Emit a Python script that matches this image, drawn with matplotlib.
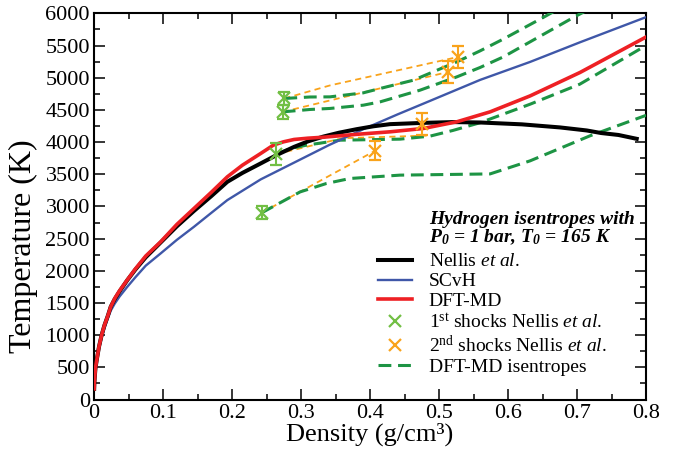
import matplotlib
matplotlib.use("Agg")
import matplotlib.pyplot as plt
from matplotlib.lines import Line2D
from matplotlib.ticker import MultipleLocator

plt.rcParams['font.family'] = ['Liberation Serif', 'DejaVu Serif']
plt.rcParams['mathtext.fontset'] = 'custom'
plt.rcParams['mathtext.rm'] = 'Liberation Serif'
plt.rcParams['mathtext.it'] = 'Liberation Serif:italic'
plt.rcParams['mathtext.bf'] = 'Liberation Serif:bold'

# ---------------- data ----------------
nellis_rho = [0.0002, 0.0005, 0.001, 0.002, 0.0039, 0.0072, 0.011, 0.015, 0.02, 0.0242,
              0.03, 0.037, 0.0483, 0.06, 0.075, 0.0966, 0.12, 0.1449, 0.17, 0.1932,
              0.215, 0.2416, 0.265, 0.2899, 0.31, 0.3324, 0.355, 0.3807, 0.405, 0.429,
              0.4773, 0.52, 0.5594, 0.62, 0.6754, 0.714, 0.735, 0.76, 0.7865]
nellis_T = [165, 260, 340, 480, 613, 820, 1000, 1150, 1300, 1441,
            1560, 1680, 1855, 2020, 2210, 2440, 2690, 2930, 3160, 3382,
            3520, 3668, 3800, 3925, 4010, 4085, 4145, 4200, 4245, 4278,
            4298, 4310, 4304, 4275, 4227, 4180, 4140, 4110, 4050]

scvh_rho = [0.0002, 0.0005, 0.001, 0.002, 0.0039, 0.0072, 0.011, 0.015, 0.02, 0.0242,
            0.03, 0.037, 0.0483, 0.06, 0.075, 0.0966, 0.12, 0.1449, 0.17, 0.1932,
            0.2416, 0.2899, 0.34, 0.3903, 0.44, 0.487, 0.5594, 0.632, 0.7043, 0.7986]
scvh_T = [165, 250, 330, 460, 600, 790, 960, 1100, 1260, 1380,
          1490, 1600, 1752, 1900, 2080, 2270, 2480, 2684, 2900, 3098,
          3420, 3680, 3950, 4200, 4430, 4640, 4965, 5245, 5550, 5935]

dft_rho = [0.0002, 0.0005, 0.001, 0.002, 0.0039, 0.0072, 0.011, 0.015, 0.02, 0.0242,
           0.03, 0.037, 0.0483, 0.06, 0.075, 0.0966, 0.12, 0.1449, 0.17, 0.1932,
           0.215, 0.2416, 0.2599, 0.2744, 0.2899, 0.31, 0.3324, 0.3807, 0.429, 0.4773,
           0.5256, 0.574, 0.632, 0.7043, 0.7986]
dft_T = [165, 260, 340, 480, 613, 820, 1000, 1150, 1300, 1441,
         1570, 1690, 1860, 2030, 2230, 2450, 2720, 2969, 3220, 3460,
         3640, 3823, 3952, 4003, 4040, 4060, 4075, 4120, 4159, 4211,
         4314, 4469, 4717, 5081, 5624]

shock1_rho = [0.243, 0.2638, 0.2734, 0.2758]
shock1_T = [2901, 3812, 4469, 4677]
shock1_err = [100, 170, 110, 100]

shock2_rho = [0.4072, 0.4758, 0.5135, 0.528]
shock2_T = [3864, 4278, 5090, 5323]
shock2_err = [145, 170, 170, 175]

# DFT-MD isentropes (green dashed)
isen1_rho = [0.243, 0.2986, 0.337, 0.371, 0.4435, 0.574, 0.632, 0.7188, 0.8]
isen1_T = [2901, 3225, 3357, 3434, 3486, 3505, 3708, 4097, 4415]
isen2_rho = [0.2638, 0.285, 0.308, 0.3565, 0.4435, 0.487, 0.52, 0.5594, 0.632, 0.704, 0.8]
isen2_T = [3812, 3900, 3952, 4029, 4045, 4092, 4180, 4300, 4588, 4899, 5500]
isen3_rho = [0.2734, 0.313, 0.342, 0.3903, 0.4145, 0.4725, 0.5256, 0.5594, 0.5932, 0.6947, 0.72]
isen3_T = [4469, 4506, 4522, 4573, 4624, 4806, 5012, 5158, 5323, 5935, 6080]
isen4_rho = [0.2758, 0.313, 0.342, 0.39, 0.4145, 0.4628, 0.5256, 0.5594, 0.5932, 0.65, 0.67]
isen4_T = [4677, 4700, 4702, 4764, 4832, 4961, 5245, 5416, 5600, 5930, 6050]

# connections 1st -> 2nd shock (orange dashed)
hug1_rho = [0.243, 0.4072]
hug1_T = [2901, 3864]
hug2_rho = [0.2638, 0.36, 0.482]
hug2_T = [3812, 4060, 4100]
hug3_rho = [0.2734, 0.5135]
hug3_T = [4469, 5090]
hug4_rho = [0.2758, 0.342, 0.528]
hug4_T = [4677, 4880, 5323]

xticks = [0, 0.1, 0.2, 0.3, 0.4, 0.5, 0.6, 0.7, 0.8]
xticklabels = ['0', '0.1', '0.2', '0.3', '0.4', '0.5', '0.6', '0.7', '0.8']
yticks = list(range(0, 6001, 500))

# ---------------- style ----------------
C_BLACK = '#000000'
C_BLUE = '#3f57a8'
C_RED = '#ee2024'
C_GREEN = '#1d9444'
C_LGREEN = '#72bf44'
C_ORANGE = '#f9a31b'

fig = plt.figure(figsize=(6.75, 4.53), dpi=100)
ax = fig.add_axes([0.1393, 0.1181, 0.8178, 0.8525])

green_dash = dict(color=C_GREEN, lw=2.2, dashes=(4.2, 2.2))
orange_dash = dict(color=C_ORANGE, lw=1.3, dashes=(3.4, 2.4))

for r, t in [(hug1_rho, hug1_T), (hug2_rho, hug2_T), (hug3_rho, hug3_T), (hug4_rho, hug4_T)]:
    ax.plot(r, t, zorder=2, **orange_dash)

for r, t in [(isen1_rho, isen1_T), (isen2_rho, isen2_T), (isen3_rho, isen3_T), (isen4_rho, isen4_T)]:
    ax.plot(r, t, zorder=3, **green_dash)

ax.plot(scvh_rho, scvh_T, color=C_BLUE, lw=1.7, zorder=4, solid_joinstyle='round')
ax.plot(nellis_rho, nellis_T, color=C_BLACK, lw=2.9, zorder=5, solid_joinstyle='round')
ax.plot(dft_rho, dft_T, color=C_RED, lw=2.6, zorder=6, solid_joinstyle='round')

ax.errorbar(shock1_rho, shock1_T, yerr=shock1_err, fmt='x', color=C_LGREEN, ms=8, mew=1.6,
            capsize=4, elinewidth=1.5, capthick=1.5, zorder=7)
ax.errorbar(shock2_rho, shock2_T, yerr=shock2_err, fmt='x', color=C_ORANGE, ms=8, mew=1.6,
            capsize=4, elinewidth=1.5, capthick=1.5, zorder=7)

ax.set_xlim(0, 0.8)
ax.set_ylim(0, 6000)
ax.set_xticks(xticks)
ax.set_xticklabels(xticklabels)
ax.set_yticks(yticks)
ax.xaxis.set_minor_locator(MultipleLocator(0.05))
ax.yaxis.set_minor_locator(MultipleLocator(250))
ax.tick_params(which='both', direction='in', top=True, right=True, width=1.1, labelsize=16, pad=3)
ax.tick_params(which='major', length=8)
ax.tick_params(which='minor', length=4)
for s in ax.spines.values():
    s.set_linewidth(1.5)

ax.set_xlabel('Density (g/cm³)', fontsize=19, labelpad=0)
ax.set_ylabel('Temperature (K)', fontsize=23)
ax.yaxis.set_label_coords(-0.102, 0.398)

# legend title as text
ax.text(0.6069, 0.488, 'Hydrogen isentropes with\nP$_{\\mathregular{0}}$ = 1 bar, T$_{\\mathregular{0}}$ = 165 K',
        transform=ax.transAxes, ha='left', va='top', fontsize=14, fontweight='bold',
        style='italic', linespacing=0.95)

handles = [
    Line2D([], [], color=C_BLACK, lw=2.9),
    Line2D([], [], color=C_BLUE, lw=1.7),
    Line2D([], [], color=C_RED, lw=2.6),
    Line2D([], [], color=C_LGREEN, marker='x', ls='none', ms=8, mew=1.6),
    Line2D([], [], color=C_ORANGE, marker='x', ls='none', ms=8, mew=1.6),
    Line2D([], [], **green_dash),
]
labels = [
    'Nellis $\\mathit{et\\ al.}$',
    'SCvH',
    'DFT-MD',
    '1$^{\\mathregular{st}}$ shocks Nellis $\\mathit{et\\ al.}$',
    '2$^{\\mathregular{nd}}$ shocks Nellis $\\mathit{et\\ al.}$',
    'DFT-MD isentropes',
]
ax.legend(handles, labels, loc='upper left', bbox_to_anchor=(0.5145, 0.38), frameon=False,
          fontsize=14, handlelength=1.75, handletextpad=0.85, labelspacing=0.12,
          borderpad=0, borderaxespad=0)

fig.savefig('out.png', dpi=100)
